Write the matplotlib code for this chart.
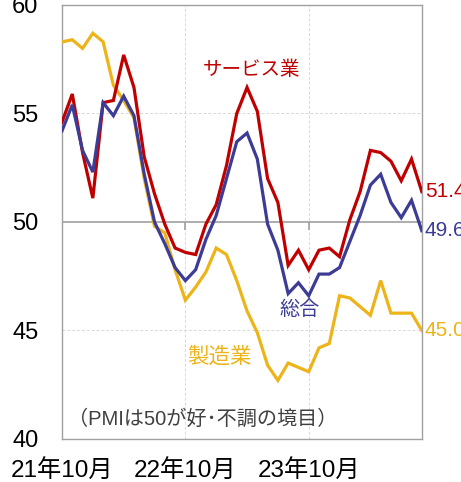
import matplotlib
matplotlib.use("Agg")
import matplotlib.pyplot as plt
import numpy as np

plt.rcParams['font.family'] = ['Liberation Sans', 'Noto Sans CJK JP', 'DejaVu Sans']

months = list(range(36))  # 2021-10 .. 2024-09
xtick_pos = [0, 12, 24]
xtick_labels = ['21年10月', '22年10月', '23年10月']
yticks = [40, 45, 50, 55, 60]

services = [54.6, 55.9, 53.2, 51.1, 55.5, 55.6, 57.7, 56.2, 53.0, 51.3, 49.9, 48.8,
            48.6, 48.5, 49.9, 50.8, 52.6, 55.0, 56.2, 55.1, 52.0, 50.9, 48.0, 48.7,
            47.8, 48.7, 48.8, 48.4, 50.1, 51.4, 53.3, 53.2, 52.8, 51.9, 52.9, 51.4]
composite = [54.2, 55.4, 53.3, 52.3, 55.5, 54.9, 55.8, 54.9, 52.2, 50.0, 49.0, 47.9,
             47.3, 47.8, 49.2, 50.3, 52.0, 53.7, 54.1, 52.9, 49.9, 48.7, 46.7, 47.2,
             46.6, 47.6, 47.6, 47.9, 49.1, 50.3, 51.7, 52.2, 50.9, 50.2, 51.0, 49.6]
manufacturing = [58.3, 58.4, 58.0, 58.7, 58.3, 56.3, 55.6, 54.8, 52.0, 49.8, 49.5, 47.8,
                 46.4, 47.0, 47.7, 48.8, 48.5, 47.3, 45.9, 44.9, 43.4, 42.7, 43.5, 43.3,
                 43.1, 44.2, 44.4, 46.6, 46.5, 46.1, 45.7, 47.3, 45.8, 45.8, 45.8, 45.0]

c_red = '#C00000'
c_blue = '#3C3C96'
c_yel = '#EDB419'

fig = plt.figure(figsize=(4.61, 4.82), dpi=100)
ax = fig.add_axes([62/461, 1-439/482, (421.8-62)/461, (439-5)/482])

ax.set_xlim(0, 35)
ax.set_ylim(40, 60)

# grid
for y in [45, 55]:
    ax.axhline(y, color='#d8d8d8', lw=0.7, ls=(0, (3, 2)), zorder=1)
for x in xtick_pos[1:]:
    ax.axvline(x, color='#d8d8d8', lw=0.7, ls=(0, (3, 2)), zorder=1)
ax.axhline(50, color='#a0a0a0', lw=1.2, zorder=1)
ax.vlines(xtick_pos, 49.65, 50, color='#a0a0a0', lw=1.2, zorder=1)

ax.plot(months, manufacturing, color=c_yel, lw=2.3, zorder=3, solid_joinstyle='miter')
ax.plot(months, services, color=c_red, lw=2.3, zorder=4, solid_joinstyle='miter')
ax.plot(months, composite, color=c_blue, lw=2.3, zorder=5, solid_joinstyle='miter')

for s in ax.spines.values():
    s.set_color('#a0a0a0')
    s.set_linewidth(1.0)

ax.set_xticks(xtick_pos)
ax.set_xticklabels(xtick_labels, fontsize=17.5)
ax.set_yticks(yticks)
ax.set_yticklabels([str(v) for v in yticks], fontsize=17)
ax.tick_params(axis='both', length=0)
ax.tick_params(axis='y', pad=17)
ax.tick_params(axis='x', pad=15)

ax.text(18.45, 57.0, 'サービス業', color=c_red, fontsize=14, ha='center', va='center')
ax.text(23.15, 45.95, '総合', color=c_blue, fontsize=14.5, ha='center', va='center')
ax.text(15.27, 43.75, '製造業', color=c_yel, fontsize=15.5, ha='center', va='center')
ax.text(0.55, 40.9, '（PMIは50が好･不調の境目）', color='#404040', fontsize=14.5,
        ha='left', va='center')

ax.text(35.3, services[-1], f'{services[-1]:.1f}', color=c_red, fontsize=15,
        ha='left', va='center', clip_on=False)
ax.text(35.3, composite[-1], f'{composite[-1]:.1f}', color=c_blue, fontsize=15,
        ha='left', va='center', clip_on=False)
ax.text(35.3, manufacturing[-1], f'{manufacturing[-1]:.1f}', color=c_yel, fontsize=15,
        ha='left', va='center', clip_on=False)

fig.savefig('out.png', dpi=100)
